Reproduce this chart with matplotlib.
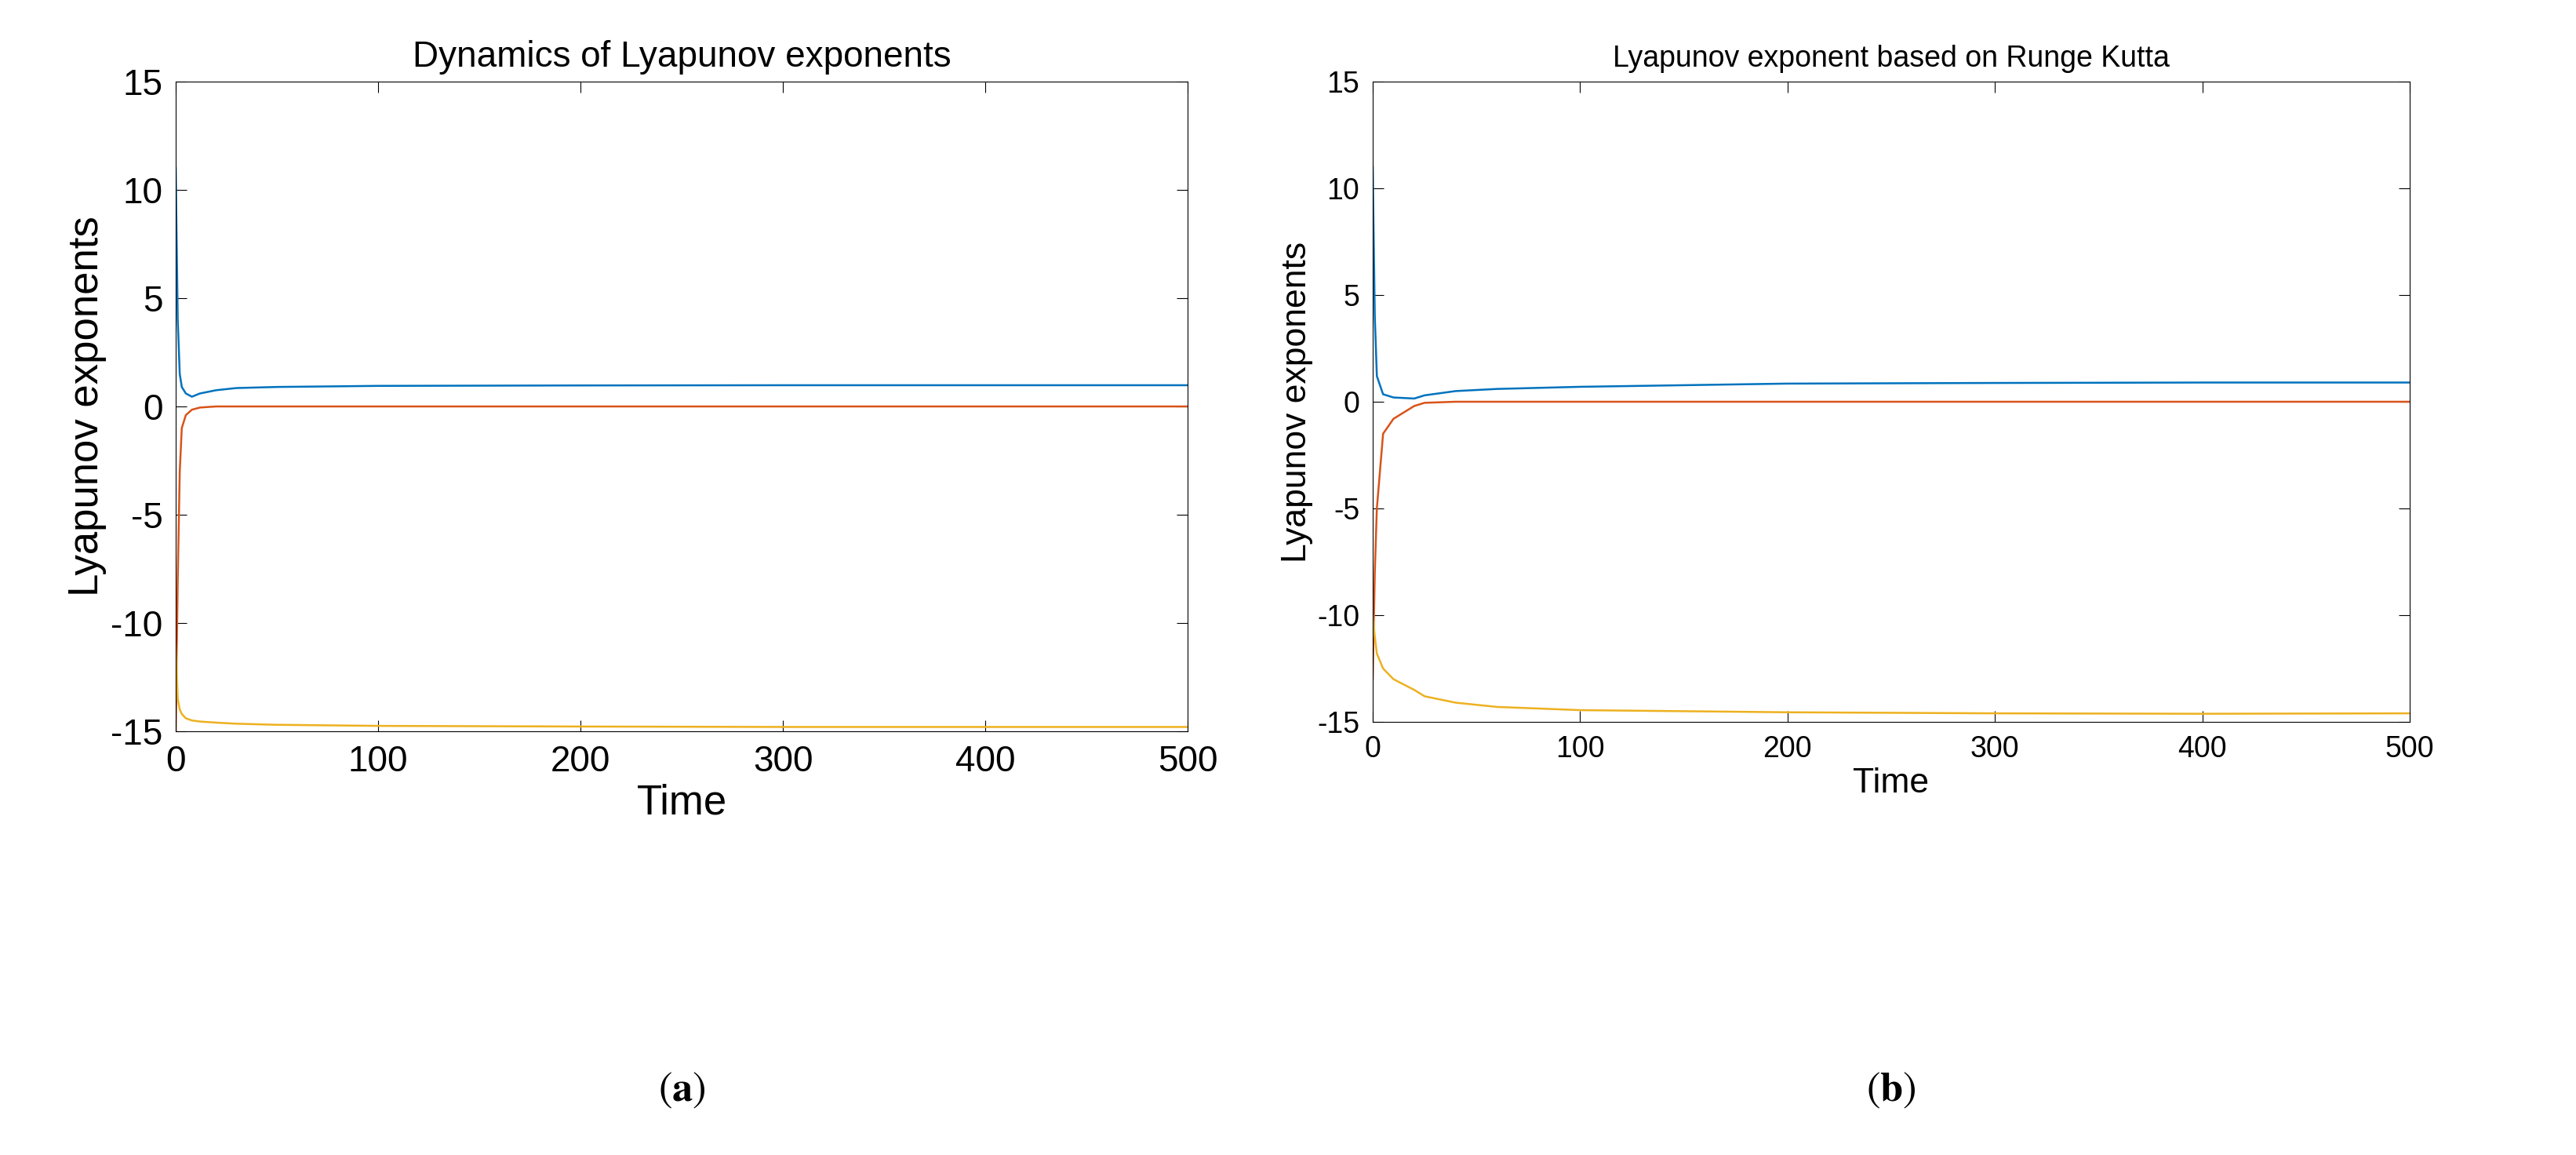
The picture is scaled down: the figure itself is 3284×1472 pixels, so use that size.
import numpy as np
import matplotlib.pyplot as plt

plt.rcParams['font.family'] = ['Liberation Sans', 'DejaVu Sans']
plt.rcParams['mathtext.fontset'] = 'stix'
plt.rcParams['axes.unicode_minus'] = False

blue, red, yellow = '#0072BD', '#D95319', '#EDB120'

# (a) Dynamics of Lyapunov exponents
t_a = [0, 1, 2, 3, 5, 8, 12, 20, 30, 50, 100, 200, 300, 400, 500]
le1_a = [11, 4, 1.5, 0.9, 0.6, 0.45, 0.6, 0.75, 0.85, 0.9, 0.95, 0.97, 0.98, 0.98, 0.98]
le2_a = [-15, -8, -3, -1, -0.4, -0.15, -0.05, 0, 0, 0, 0, 0, 0, 0, 0]
le3_a = [-11, -13.5, -14, -14.2, -14.4, -14.5, -14.55, -14.6, -14.65, -14.7, -14.75, -14.78, -14.8, -14.8, -14.8]

# (b) Lyapunov exponent based on Runge Kutta
t_b = [0, 1, 2, 5, 10, 20, 25, 40, 60, 100, 200, 300, 400, 500]
le1_b = [11, 4, 1.2, 0.35, 0.2, 0.15, 0.3, 0.5, 0.6, 0.7, 0.85, 0.88, 0.9, 0.9]
le2_b = [-13, -8, -5, -1.5, -0.8, -0.2, -0.05, 0, 0, 0, 0, 0, 0, 0]
le3_b = [-10, -11, -11.8, -12.5, -13.0, -13.5, -13.8, -14.1, -14.3, -14.45, -14.55, -14.6, -14.62, -14.6]

fig = plt.figure(figsize=(32.84, 14.72), dpi=100)
ax1 = fig.add_axes([224/3284, 1-932/1472, 1290/3284, 828/1472])
ax2 = fig.add_axes([1750/3284, 1-920/1472, 1322/3284, 816/1472])

for ax, t, s, fs, title, lab in [
        (ax1, t_a, (le1_a, le2_a, le3_a), 33, 'Dynamics of Lyapunov exponents', 'a'),
        (ax2, t_b, (le1_b, le2_b, le3_b), 27, 'Lyapunov exponent based on Runge Kutta', 'b')]:
    for y, c in zip(s, (blue, red, yellow)):
        ax.plot(t, y, color=c, lw=1.8)
    ax.set_xlim(0, 500)
    ax.set_ylim(-15, 15)
    ax.set_xticks(range(0, 501, 100))
    ax.set_yticks(range(-15, 16, 5))
    ax.tick_params(labelsize=fs, direction='in', length=10, top=True, right=True, pad=12)
    ax.set_title(title, fontsize=fs, pad=14)
    ax.set_xlabel('Time', fontsize=fs + 5)
    ax.set_ylabel('Lyapunov exponents', fontsize=fs + 5)
    pos = ax.get_position()
    fig.text((pos.x0 + pos.x1) / 2, 1 - 1390/1472, r'$(\mathbf{%s})$' % lab,
             ha='center', va='center', fontsize=38)

fig.savefig('out.png', dpi=100)
